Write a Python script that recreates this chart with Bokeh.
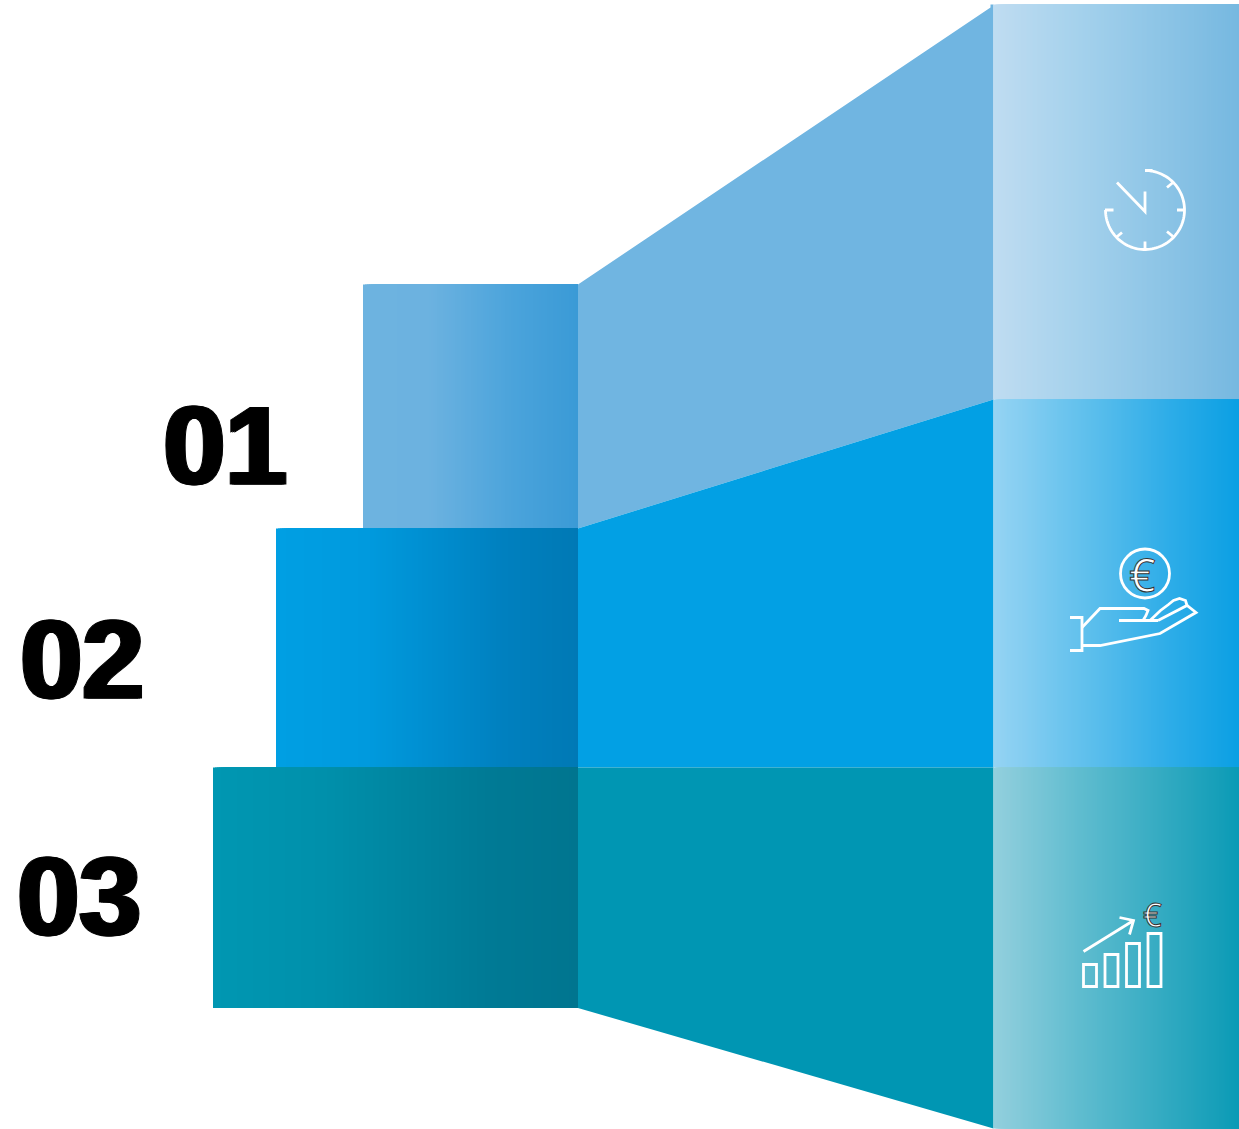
from bokeh.embed import file_html
from bokeh.models import Range1d
from bokeh.plotting import figure
from bokeh.resources import INLINE
from bokeh.core.properties import value
import numpy as np

# Step labels and the outline of each of the three tiers
labels = ["01", "02", "03"]
label_x = [163, 20, 17]
label_baseline = [445, 659, 896]

tier_left = [362.5, 275.5, 212.5]
tier_top = [284, 528, 767]
tier_bottom = [528, 767, 1007.5]
seam_x = 577.5
wall_x = 993
end_x = 1239
wall_top = [4, 399, 767]
wall_bottom = [399, 767, 1128]

# Colours: front block, wall, end panel
block_stops = [
    [(0.0, "#6db3e0"), (0.30, "#6cb2e0"), (0.70, "#4aa3db"), (1.0, "#3a9ad6")],
    [(0.0, "#009fe3"), (0.30, "#009ade"), (0.75, "#0080bf"), (1.0, "#0079b5")],
    [(0.0, "#0097b2"), (0.30, "#0090ab"), (0.75, "#007a95"), (1.0, "#00758f")],
]
wall_colors = ["#70b5e1", "#02a0e4", "#0096b3"]
panel_stops = [
    [(0.0, "#bfdcf1"), (0.35, "#a4d1ec"), (1.0, "#76b8e0")],
    [(0.0, "#94d3f3"), (0.12, "#84cdf1"), (0.40, "#5bbeec"), (0.70, "#2fade8"), (1.0, "#0a9fe3")],
    [(0.0, "#92cfdd"), (0.35, "#5fbccf"), (1.0, "#0a9ab5")],
]


def mix(stops, t):
    xs = [s[0] for s in stops]
    rgb = [[int(s[1][i:i + 2], 16) for s in stops] for i in (1, 3, 5)]
    return "#%02x%02x%02x" % tuple(int(round(np.interp(t, xs, c))) for c in rgb)


p = figure(width=1239, height=1129, output_backend="svg", toolbar_location=None,
           x_range=Range1d(0, 1239), y_range=Range1d(1129, 0), min_border=0)
p.axis.visible = False
p.grid.visible = False
p.outline_line_color = None
p.background_fill_color = "white"


def gradient_band(x0, x1, y0, y1, stops, step=2):
    # Each strip runs to the far edge and the next one paints over it, so no seams show
    lefts = list(np.arange(x0, x1, step))
    colors = [mix(stops, (a - x0) / (x1 - x0)) for a in lefts]
    p.quad(left=lefts, right=x1, top=y0, bottom=y1, fill_color=colors, line_color=None)


# Sloped walls between the blocks and the end panels
wall_shapes = [
    ([seam_x, 990, 990, wall_x, wall_x, seam_x], [tier_top[0], 7, wall_top[0], wall_top[0], wall_bottom[0], tier_bottom[0]]),
    ([seam_x, wall_x, wall_x, seam_x], [tier_top[1], wall_top[1], wall_bottom[1], tier_bottom[1]]),
    ([seam_x, wall_x, wall_x, seam_x], [tier_top[2], wall_top[2], wall_bottom[2], tier_bottom[2]]),
]
for (xs, ys), color in zip(wall_shapes, wall_colors):
    p.patch(xs, ys, fill_color=color, line_color=None)

for i in range(3):
    gradient_band(tier_left[i], seam_x, tier_top[i], tier_bottom[i], block_stops[i])
    gradient_band(wall_x, end_x, wall_top[i], wall_bottom[i], panel_stops[i])

# Heavy numerals: the bold face is thickened by overprinting it sideways
for shift in (-2, 0, 2):
    p.text(x=[x + shift for x in label_x], y=label_baseline, text=labels,
           text_font=value("Liberation Sans"), text_font_style="bold", text_font_size="111px",
           text_color="black", outline_color="black", text_baseline="alphabetic", text_align="left")

# Line icons
icon = dict(line_color="white", line_width=2.8, line_join="miter")

# clock
cx, cy, r = 1144.5, 209.5, 39.5
angle = np.radians(np.linspace(-90, 180, 90))
p.line(cx + r * np.cos(angle), cy + r * np.sin(angle), **icon)
p.multi_line(
    [[1144.5, 1152], [1104.5, 1113], [1176.5, 1184], [1144.5, 1144.5], [1166.5, 1172.5], [1166.5, 1172.5], [1115.5, 1121.5], [1116.5, 1144.5, 1144.5]],
    [[170, 170], [209.5, 209.5], [209.5, 209.5], [241, 249], [187, 182], [231, 236], [237, 232], [182, 211, 191]],
    **icon)

# hand holding a coin
p.circle(x=[1144.5], y=[573], radius=24.5, fill_color=None, **icon)
p.multi_line(
    [[1069.5, 1081.5, 1081.5, 1069.5],
     [1081.5, 1099.5, 1143.5, 1147.5, 1145.5, 1142.5, 1118.5, 1157.5],
     [1081.5, 1099.5, 1159.5, 1195.5, 1186.5, 1157.5],
     [1149.5, 1160, 1168, 1173, 1179, 1185, 1186.5]],
    [[617, 617, 650, 650],
     [627, 608, 608, 610, 615, 620, 620, 620],
     [645, 645, 633, 612, 605, 620],
     [620, 610, 604, 600, 598, 600, 605]],
    **icon)
p.text(x=[1142], y=[573], text=["€"], text_font=value("Open Sans"), text_font_size="46px",
       text_color="white", outline_color="#333333", text_align="center", text_baseline="alphabetic")

# rising bars with an arrow
bar_left = [1083, 1104.5, 1126, 1147.5]
bar_top = [964, 954, 943, 933]
p.quad(left=bar_left, right=[b + 13 for b in bar_left], top=bar_top, bottom=986, fill_color=None, **icon)
p.multi_line([[1083, 1133], [1119, 1133, 1129]], [[951, 920], [917, 920, 934]], **icon)
p.text(x=[1152], y=[914], text=["€"], text_font=value("Open Sans"), text_font_size="33px",
       text_color="white", outline_color="#333333", text_align="center", text_baseline="alphabetic")

open("out.html", "w").write(file_html(p, INLINE))
